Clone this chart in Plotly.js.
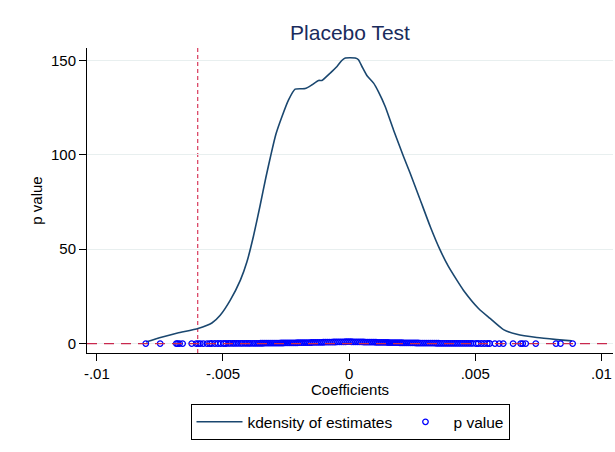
<!DOCTYPE html>
<html>
<head>
<meta charset="utf-8">
<script src="https://cdn.plot.ly/plotly-3.0.1.min.js"></script>
<style>html,body{margin:0;padding:0;background:#fff;}#chart{width:615px;height:452px;}</style>
</head>
<body>
<div id="chart"></div>
<script>
// Kernel density of placebo estimates
const kdX = [-0.00805,-0.00744,-0.00680,-0.00599,-0.00544,-0.00511,-0.00471,-0.00431,-0.00405,-0.00379,
  -0.00353,-0.00330,-0.00310,-0.00290,-0.00266,-0.00240,-0.00214,-0.00174,-0.00147,-0.00121,-0.00108,
  -0.00075,-0.00048,-0.00029,-0.00015,0.00024,0.00037,0.00051,0.00071,0.00097,0.00116,
  0.00143,0.00176,0.00216,0.00242,0.00282,0.00321,0.00361,0.00393,0.00427,0.00453,
  0.00513,0.00559,0.00612,0.00665,0.00744,0.00823,0.00883];
const kdY = [0.85,3.3,5.6,8.0,10.9,15.0,23.0,33.6,43.3,57.0,
  73.0,88.0,100.0,111.0,120.3,129.1,134.8,135.1,137.1,139.4,139.4,
  143.3,146.8,150.0,151.3,151.3,150.4,146.8,141.9,138.0,133.5,
  125.6,113.2,99.0,90.2,76.1,62.2,49.5,41.0,33.6,28.3,
  18.6,13.3,7.4,4.9,3.2,2.1,1.4];

// p values of placebo estimates
const pvCoef = [-0.00806,-0.00749,-0.00685,-0.00680,-0.00672,-0.00660,-0.00624,-0.00606,-0.00598,-0.00590,
  -0.00578,-0.00563,-0.00553,-0.00545,-0.00532,-0.00520,-0.00509,-0.00497,-0.00488,
  -0.00478,-0.00471,-0.00462,-0.00455,-0.00447,-0.00439,-0.00430,-0.00423,-0.00414,-0.00406,
  -0.00398,-0.00391,-0.00382,-0.00374,-0.00366,-0.00358,-0.00350,-0.00342,-0.00334,-0.00326,
  -0.00318,-0.00310,-0.00302,-0.00294,-0.00286,-0.00278,-0.00270,-0.00262,-0.00254,-0.00246,
  -0.00238,-0.00230,-0.00222,-0.00214,-0.00206,-0.00198,-0.00190,-0.00182,-0.00174,-0.00166,
  -0.00158,-0.00150,-0.00142,-0.00134,-0.00126,-0.00118,-0.00110,-0.00102,-0.00094,-0.00086,
  -0.00078,-0.00070,-0.00062,-0.00054,-0.00046,-0.00038,-0.00030,-0.00022,-0.00014,-0.00006,
  0.00002,0.00010,0.00018,0.00026,0.00034,0.00042,0.00050,0.00058,0.00066,0.00074,
  0.00082,0.00090,0.00098,0.00106,0.00114,0.00122,0.00130,0.00138,0.00146,0.00154,
  0.00162,0.00170,0.00178,0.00186,0.00194,0.00202,0.00210,0.00218,0.00226,0.00234,
  0.00242,0.00250,0.00258,0.00266,0.00274,0.00282,0.00290,0.00298,0.00306,0.00314,
  0.00322,0.00330,0.00338,0.00346,0.00354,0.00362,0.00370,0.00378,0.00386,0.00394,
  0.00402,0.00410,0.00418,0.00426,0.00434,0.00442,0.00450,0.00458,0.00466,0.00474,0.00482,0.00490,
  0.00503,0.00512,0.00524,0.00536,0.00548,0.00557,0.00578,0.00595,0.00611,0.00650,
  0.00680,0.00688,0.00700,0.00740,0.00820,0.00838,0.00886];
const pvVal = [0.00,0.00,0.01,0.01,0.01,0.01,0.01,0.01,0.02,0.02,
  0.02,0.02,0.02,0.03,0.03,0.03,0.03,0.04,0.04,
  0.05,0.05,0.06,0.06,0.07,0.07,0.08,0.08,0.09,0.10,
  0.10,0.11,0.12,0.13,0.14,0.15,0.16,0.17,0.18,0.20,
  0.21,0.22,0.23,0.25,0.26,0.28,0.29,0.31,0.33,0.34,
  0.36,0.38,0.40,0.41,0.43,0.45,0.47,0.49,0.51,0.53,
  0.55,0.57,0.60,0.62,0.64,0.66,0.68,0.70,0.73,0.75,
  0.77,0.80,0.82,0.84,0.87,0.89,0.91,0.94,0.96,0.99,
  0.99,0.97,0.94,0.92,0.90,0.87,0.85,0.83,0.80,0.78,
  0.76,0.73,0.71,0.69,0.67,0.65,0.63,0.61,0.58,0.56,
  0.54,0.52,0.50,0.48,0.46,0.44,0.43,0.41,0.39,0.37,
  0.35,0.34,0.32,0.30,0.29,0.27,0.26,0.24,0.23,0.22,
  0.20,0.19,0.18,0.17,0.16,0.15,0.14,0.13,0.12,0.11,
  0.10,0.10,0.09,0.08,0.08,0.07,0.07,0.06,0.06,0.05,0.05,0.05,
  0.04,0.04,0.04,0.03,0.03,0.03,0.02,0.02,0.02,0.01,
  0.01,0.01,0.01,0.01,0.00,0.00,0.00];

const trueCoef = [-0.006];
const zeroRef = [0];
const xTickVals = [-0.01, -0.005, 0, 0.005, 0.01];
const xTickText = ['-.01', '-.005', '0', '.005', '.01'];
const yTickVals = [0, 50, 100, 150];
const yTickText = ['0', '50', '100', '150'];

const FONT = 'Liberation Sans, Arial, sans-serif';

const traces = [
  {
    x: kdX, y: kdY, type: 'scatter', mode: 'lines',
    name: 'kdensity of estimates',
    line: {color: '#1a476f', width: 1.6, shape: 'spline', smoothing: 0.5}
  },
  {
    x: pvCoef, y: pvVal, type: 'scatter', mode: 'markers',
    name: 'p value',
    marker: {symbol: 'circle-open', color: '#0000ff', size: 5.5, line: {width: 1.3, color: '#0000ff'}}
  }
];

const layout = {
  width: 615, height: 452,
  paper_bgcolor: '#ffffff', plot_bgcolor: '#ffffff',
  font: {family: FONT, size: 15, color: '#000000'},
  margin: {l: 87, r: 2, t: 48, b: 99, pad: 0},
  title: {text: 'Placebo Test', font: {family: FONT, size: 21, color: '#1a2b5c'},
          x: 0.5, xref: 'paper', xanchor: 'center', y: 0.927, yref: 'container', yanchor: 'middle'},
  xaxis: {
    range: [-0.01039, 0.01046], tickvals: xTickVals, ticktext: xTickText,
    showgrid: false, zeroline: false, showline: true, linecolor: '#000', linewidth: 1,
    ticks: 'outside', ticklen: 7, tickcolor: '#000', tickfont: {size: 15, color: '#000'}
  },
  yaxis: {
    range: [-5, 156.6], tickvals: yTickVals, ticktext: yTickText,
    showgrid: true, gridcolor: '#e8efef', gridwidth: 1, zeroline: false,
    showline: true, linecolor: '#000', linewidth: 1,
    ticks: 'outside', ticklen: 7, tickcolor: '#000', tickfont: {size: 15, color: '#000'},
    title: {text: 'p value', font: {size: 15, color: '#000'}, standoff: 4}
  },
  annotations: [
    {text: 'Coefficients', xref: 'paper', yref: 'paper', x: 0.5, y: -0.119,
     xanchor: 'center', yanchor: 'middle', showarrow: false, font: {size: 15, color: '#000'}}
  ],
  shapes: [
    {type: 'line', xref: 'paper', x0: 0, x1: 1, yref: 'y', y0: zeroRef[0], y1: zeroRef[0],
     line: {color: '#c8284e', width: 1.3, dash: '10px,7px'}, layer: 'above', opacity: 1},
    {type: 'line', xref: 'x', x0: trueCoef[0], x1: trueCoef[0], yref: 'paper', y0: 0, y1: 1,
     line: {color: '#d0103a', width: 1, dash: '4px,3px'}, layer: 'below'}
  ],
  showlegend: true,
  legend: {
    orientation: 'h', x: 0.5, xanchor: 'center', y: -0.168, yanchor: 'top',
    bordercolor: '#000', borderwidth: 1, bgcolor: '#fff',
    font: {size: 15.5, color: '#000'}, itemwidth: 46, tracegroupgap: 0
  }
};

Plotly.newPlot('chart', traces, layout, {displayModeBar: false, staticPlot: true});
</script>
</body>
</html>
